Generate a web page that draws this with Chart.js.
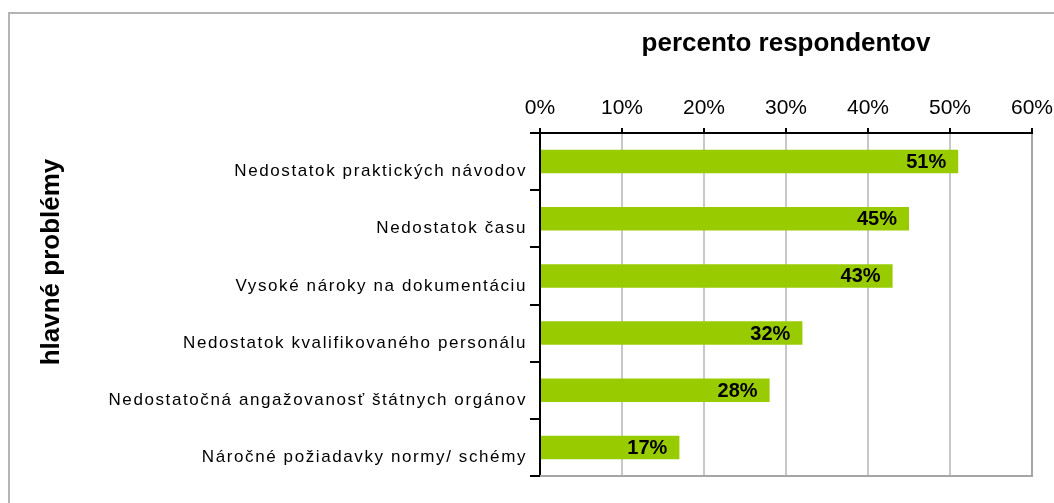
<!DOCTYPE html>
<html>
<head>
<meta charset="utf-8">
<script src="https://cdn.jsdelivr.net/npm/chart.js"></script>
<style>
  body { margin: 0; background: #fff; }
  #obal { width: 1054px; height: 503px; }
</style>
</head>
<body>
<div id="obal"><canvas id="graf"></canvas></div>
<script>
// udaje z grafu
var kategorie = [
  'Nedostatok praktických návodov',
  'Nedostatok času',
  'Vysoké nároky na dokumentáciu',
  'Nedostatok kvalifikovaného personálu',
  'Nedostatočná angažovanosť štátnych orgánov',
  'Náročné požiadavky normy/ schémy'
];
var hodnoty = [51, 45, 43, 32, 28, 17];
var znackyOsi = ['0%', '10%', '20%', '30%', '40%', '50%', '60%'];
var nazovX = 'percento respondentov';
var nazovY = 'hlavné problémy';

var pismo = "'Liberation Sans', Arial, sans-serif";

// ramcek, popisky na stlpcoch, nazov osi y
var doplnky = {
  id: 'doplnky',
  beforeDraw: function(chart) {
    var ctx = chart.ctx;
    ctx.save();
    ctx.strokeStyle = '#b4b4b4';
    ctx.lineWidth = 2;
    ctx.strokeRect(9, 13, 1100, 600);
    ctx.restore();

    // riedke pismo pre kategorie (ako v exceli)
    var y = chart.scales.y;
    if (!y.riedke) {
      var povodne = y.drawLabels.bind(y);
      y.drawLabels = function(area) {
        chart.ctx.save();
        chart.ctx.letterSpacing = '1.6px';
        povodne(area);
        chart.ctx.restore();
      };
      y.riedke = true;
    }
  },
  afterDatasetsDraw: function(chart) {
    var ctx = chart.ctx;
    var meta = chart.getDatasetMeta(0);
    ctx.save();
    ctx.font = 'bold 20px ' + pismo;
    ctx.fillStyle = '#000';
    ctx.textAlign = 'right';
    ctx.textBaseline = 'middle';
    meta.data.forEach(function(bar, i) {
      ctx.fillText(hodnoty[i] + '%', bar.x - 12, bar.y + 1);
    });
    ctx.restore();
  },
  afterDraw: function(chart) {
    var ctx = chart.ctx;
    var a = chart.chartArea;
    ctx.save();
    // spodna hrana plochy grafu
    ctx.strokeStyle = '#a6a6a6';
    ctx.lineWidth = 2;
    ctx.beginPath();
    ctx.moveTo(a.left, a.bottom);
    ctx.lineTo(a.right + 1, a.bottom);
    ctx.stroke();
    // nazov osi y
    ctx.translate(52, 262);
    ctx.rotate(-Math.PI / 2);
    ctx.font = 'bold 26px ' + pismo;
    ctx.fillStyle = '#000';
    ctx.textAlign = 'center';
    ctx.textBaseline = 'middle';
    ctx.fillText(nazovY, 0, 0);
    ctx.restore();
  }
};

var graf = new Chart(document.getElementById('graf'), {
  type: 'bar',
  data: {
    labels: kategorie,
    datasets: [{
      data: hodnoty,
      backgroundColor: '#99cc00',
      borderWidth: 0,
      barPercentage: 0.41,
      categoryPercentage: 1
    }]
  },
  options: {
    indexAxis: 'y',
    responsive: true,
    maintainAspectRatio: false,
    animation: false,
    layout: { padding: { left: 0, right: 22, top: 0, bottom: 27 } },
    plugins: {
      legend: { display: false },
      tooltip: { enabled: false }
    },
    scales: {
      x: {
        position: 'top',
        min: 0,
        max: 60,
        ticks: {
          stepSize: 10,
          padding: 7,
          color: '#000',
          font: { family: pismo, size: 21 },
          callback: function(v, i) { return znackyOsi[i]; }
        },
        grid: {
          color: function(c) { return c.index === 6 ? '#a6a6a6' : '#c8c8c8'; },
          lineWidth: 2,
          tickLength: 5,
          tickColor: '#000',
          tickWidth: 2
        },
        border: { color: '#000', width: 2 },
        title: {
          display: true,
          text: nazovX,
          color: '#000',
          font: { family: pismo, size: 26, weight: 'bold' },
          padding: { top: 28, bottom: 0 }
        },
        afterFit: function(s) {
          s.height = 133;
          s.paddingRight = 0;
        }
      },
      y: {
        ticks: {
          padding: 3,
          labelOffset: 10,
          color: '#000',
          font: { family: pismo, size: 17 }
        },
        grid: {
          drawOnChartArea: false,
          offset: true,
          tickLength: 10,
          color: '#000',
          lineWidth: 2
        },
        border: { color: '#000', width: 2 },
        afterFit: function(s) { s.width = 540; }
      }
    }
  },
  plugins: [doplnky]
});
</script>
</body>
</html>
